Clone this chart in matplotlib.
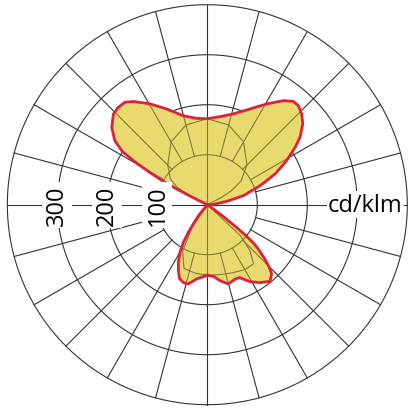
import numpy as np
import matplotlib.pyplot as plt

# intensity curve, angle from nadir (0 = straight down), counter-clockwise
angle_deg = [0, 5, 9.5, 14.8, 20.3, 23.7, 29, 34, 39.3, 42.9, 44.7, 46.7, 49,
             50.3, 51.5, 52.5, 53.5, 55, 56, 90, 93, 99.7, 104, 109.8, 114.4,
             119, 123.2, 126, 130.2, 133.9, 137.4, 140.2, 143.8, 149.5, 155.9,
             164, 171.8, 180, 187, 195, 203, 209.6, 215.6, 218.8, 222.4, 226,
             231, 235.3, 238, 239.5, 240.8, 242, 242.8, 243.3, 244, 245, 320,
             321, 324, 325.5, 327.5, 330.2, 333.3, 336.3, 339.4, 343, 346.5,
             351.8, 360]
intensity = [141, 144, 154, 164, 159, 159, 176, 188, 198, 189, 176, 158, 135,
             120, 95, 65, 40, 15, 0, 0, 12, 39, 74, 112, 149,
             181, 210, 229, 250, 262, 269, 269, 258, 234, 210,
             189, 178, 172, 174, 184, 208, 232, 254, 263, 264, 261,
             246, 225, 200, 165, 130, 100, 70, 40, 15, 0, 0,
             28, 48, 67, 89, 110, 129, 144, 158, 163, 163,
             150, 141]

# second (transverse) plane, seen inside the filled area
cross_up_deg = [114, 117, 120, 125, 135, 150, 165, 180, 195, 210, 225, 235, 240, 243, 246]
cross_up_val = [0, 30, 55, 82, 112, 145, 165, 172, 165, 145, 112, 90, 70, 40, 0]
cross_dn_deg = [322, 326, 332, 340, 350, 0, 10, 20, 30, 38, 43, 47, 51]
cross_dn_val = [0, 55, 105, 136, 139, 141, 142, 145, 150, 150, 125, 90, 0]

ring_values = [100, 200, 300, 400]
ring_labels = ["100", "200", "300"]
unit_label = "cd/klm"

fill_color = "#e8da6e"
curve_color = "#e0203a"
grid_color = "#333333"
inner_grid_color = "#857a35"

plt.rcParams['font.family'] = ['Open Sans', 'DejaVu Sans']

fig = plt.figure(figsize=(4.16, 4.14), dpi=100)
ax = fig.add_axes([0.0176, 0.02, 0.9615, 0.9662], projection='polar')
ax.set_theta_zero_location('S')
ax.set_theta_direction(1)
ax.set_ylim(0, 400)
ax.axis('off')


def draw_grid(color, lw, z, rings, clip=None):
    """rings plus spokes every 15 deg (off-axis spokes start at the 100 ring)"""
    lines = []
    circ = np.linspace(0, 2 * np.pi, 721)
    for rv in rings:
        lines += ax.plot(circ, np.full_like(circ, rv), color=color, lw=lw, zorder=z)
    for a in range(0, 360, 15):
        t = np.deg2rad(a)
        r0 = 0 if a % 90 == 0 else ring_values[0]
        lines += ax.plot([t, t], [r0, ring_values[-1]], color=color, lw=lw, zorder=z)
    for ln in lines:
        if clip is None:
            ln.set_clip_on(False)
        else:
            ln.set_clip_path(clip)
    return lines


theta = np.deg2rad(angle_deg)

draw_grid(grid_color, 0.8, 1, ring_values)

patch = ax.fill(theta, intensity, color=fill_color, lw=0, zorder=2)[0]
draw_grid(inner_grid_color, 0.8, 3, ring_values[:1], clip=patch)

for deg, val in [(cross_up_deg, cross_up_val), (cross_dn_deg, cross_dn_val)]:
    ln, = ax.plot(np.deg2rad(deg), val, color=inner_grid_color, lw=0.8, zorder=3)
    ln.set_clip_path(patch)

ax.plot(theta, intensity, color=curve_color, lw=2.0, zorder=5,
        solid_joinstyle='round', clip_on=False)

# scale labels on the left horizontal axis
for rv, lab in zip(ring_values, ring_labels):
    ax.text(np.deg2rad(270), rv, lab, rotation=90, ha='center', va='center',
            fontsize=17, zorder=6,
            bbox=dict(facecolor='white', edgecolor='none', pad=2))

ax.text(np.deg2rad(90), 316, unit_label, ha='center', va='center',
        fontsize=17, zorder=6,
        bbox=dict(facecolor='white', edgecolor='none', pad=1))

fig.savefig('out.png', dpi=100)
